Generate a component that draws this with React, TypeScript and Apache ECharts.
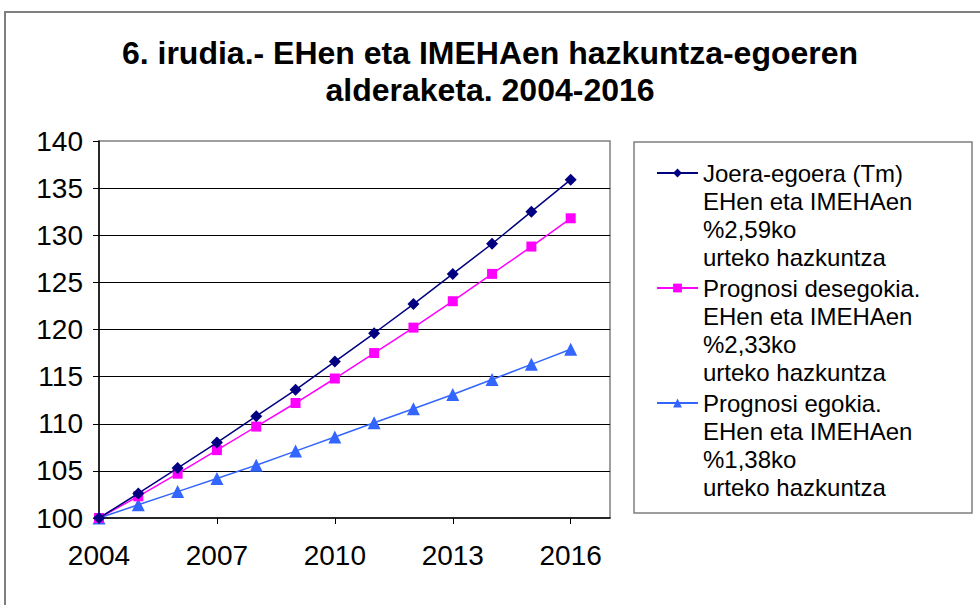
import React, { useEffect, useRef } from "react";
import * as echarts from "echarts";

const titleLines = ["6. irudia.- EHen eta IMEHAen hazkuntza-egoeren", "alderaketa. 2004-2016"];

// x-axis categories (last slot is the empty space before the plot's right edge)
const years = ["2004", "2005", "2006", "2007", "2008", "2009", "2010", "2011", "2012", "2013", "2014", "2015", "2016", ""];

const seriesNames = ["Joera-egoera (Tm)", "Prognosi desegokia.", "Prognosi egokia."];
const seriesNotes = [
  "EHen eta IMEHAen\n%2,59ko\nurteko hazkuntza",
  "EHen eta IMEHAen\n%2,33ko\nurteko hazkuntza",
  "EHen eta IMEHAen\n%1,38ko\nurteko hazkuntza",
];

const joeraEgoera = [100, 102.6, 105.3, 108.0, 110.8, 113.6, 116.6, 119.6, 122.7, 125.9, 129.1, 132.5, 135.9];
const prognosiDesegokia = [100, 102.3, 104.7, 107.2, 109.7, 112.2, 114.8, 117.5, 120.2, 123.0, 125.9, 128.8, 131.8];
const prognosiEgokia = [100, 101.4, 102.8, 104.2, 105.6, 107.1, 108.6, 110.1, 111.6, 113.1, 114.7, 116.3, 117.9];

const FONT = "'Liberation Sans', Arial, sans-serif";

export default function App() {
  const ref = useRef<HTMLDivElement>(null);
  useEffect(() => {
    if (!ref.current) return;
    const chart = echarts.init(ref.current, null, { renderer: "svg" });
    const colors = ["#000080", "#FF00FF", "#3366FF"];
    const symbols = ["diamond", "rect", "triangle"];
    const sizes = [12, 10, 13];
    const datas = [joeraEgoera, prognosiDesegokia, prognosiEgokia];
    chart.setOption({
      animation: false,
      backgroundColor: "#ffffff",
      textStyle: { fontFamily: FONT },
      title: {
        text: titleLines.join("\n"),
        left: "center",
        top: 29,
        textStyle: { fontFamily: FONT, fontSize: 32, fontWeight: "bold", color: "#000", lineHeight: 37 },
      },
      grid: {
        left: 99,
        right: 370,
        top: 141,
        bottom: 87,
        show: true,
        borderColor: "#808080",
        borderWidth: 1.5,
        backgroundColor: "transparent",
      },
      xAxis: {
        type: "category",
        data: years,
        boundaryGap: false,
        axisLine: { show: true, lineStyle: { color: "#000", width: 1.5 } },
        axisTick: { show: true, interval: 2, length: 6, lineStyle: { color: "#000" } },
        axisLabel: { interval: 2, fontSize: 28, color: "#000", fontFamily: FONT, margin: 23 },
        splitLine: { show: false },
      },
      yAxis: {
        type: "value",
        min: 100,
        max: 140,
        interval: 5,
        axisLine: { show: true, lineStyle: { color: "#000", width: 1.5 } },
        axisTick: { show: true, length: 6, lineStyle: { color: "#000" } },
        axisLabel: { fontSize: 28, color: "#000", fontFamily: FONT, margin: 16 },
        splitLine: { show: true, showMaxLine: false, showMinLine: false, lineStyle: { color: "#000", width: 1 } },
      },
      legend: {
        orient: "vertical",
        left: 656,
        top: 159,
        itemWidth: 41,
        itemHeight: 11,
        itemGap: 87,
        padding: 0,
        textStyle: { fontFamily: FONT, fontSize: 24, color: "#000", lineHeight: 28 },
        data: seriesNames,
      },
      graphic: [
        {
          type: "rect",
          shape: { x: 5, y: 12, width: 1000, height: 700 },
          style: { fill: "none", stroke: "#7f7f7f", lineWidth: 2 },
          silent: true,
          z: -10,
        },
        {
          type: "rect",
          shape: { x: 634, y: 142, width: 338, height: 371 },
          style: { fill: "none", stroke: "#7f7f7f", lineWidth: 1.5 },
          silent: true,
        },
        ...seriesNotes.map((note, i) => ({
          type: "text",
          x: 703,
          y: 187 + i * 115,
          style: { text: note, font: `24px ${FONT}`, fill: "#000", lineHeight: 28, verticalAlign: "top" },
          silent: true,
        })),
      ],
      series: datas.map((d, i) => ({
        name: seriesNames[i],
        type: "line",
        data: d,
        symbol: symbols[i],
        symbolSize: sizes[i],
        lineStyle: { color: colors[i], width: 1.5 },
        itemStyle: { color: colors[i] },
        z: 10 - i,
      })),
    });
    return () => chart.dispose();
  }, []);
  return <div ref={ref} style={{ position: "absolute", left: 0, top: 0, width: 980, height: 605 }} />;
}
